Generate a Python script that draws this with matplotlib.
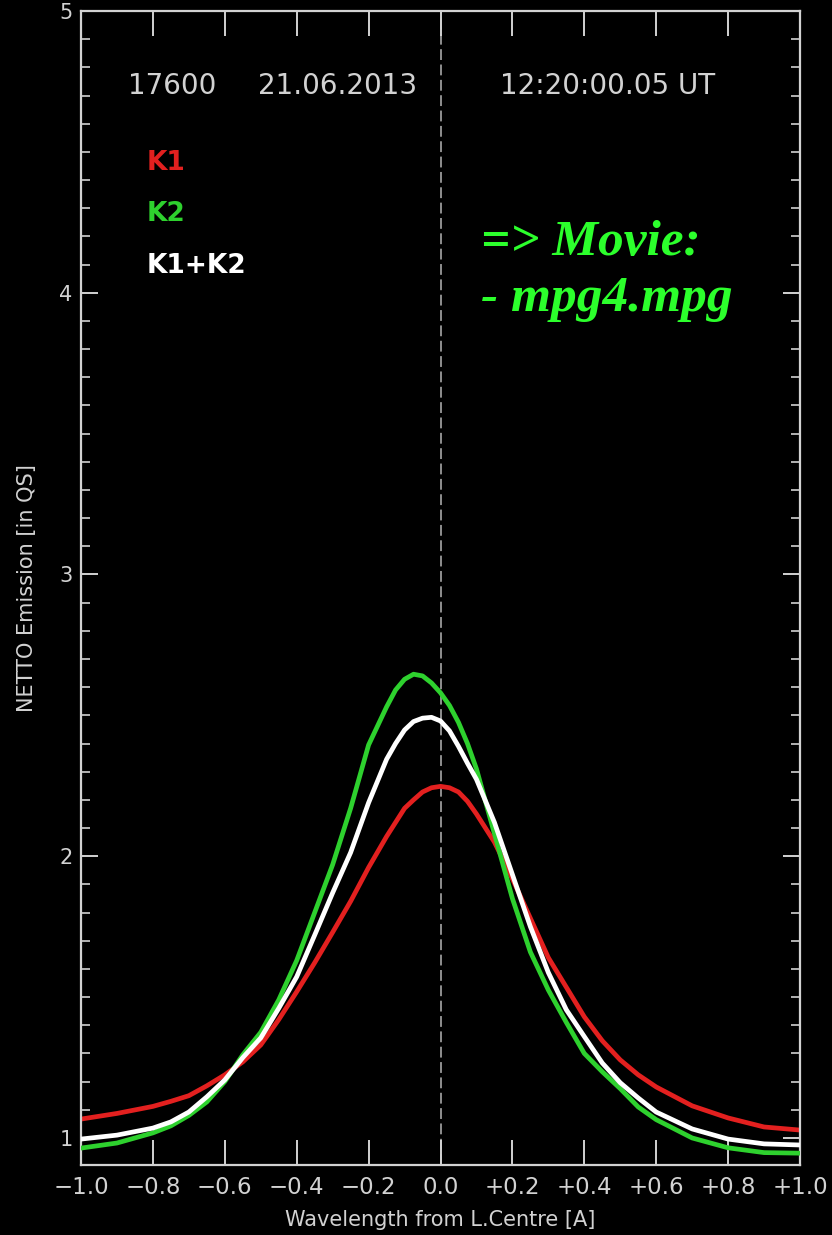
import matplotlib.pyplot as plt
from matplotlib.ticker import MultipleLocator
import numpy as np

# wavelength offset from line centre [A]
wavelength = [-1.0, -0.9, -0.8, -0.75, -0.7, -0.65, -0.6, -0.55, -0.5, -0.45,
              -0.4, -0.35, -0.3, -0.25, -0.2, -0.15, -0.125, -0.1, -0.075, -0.05,
              -0.025, 0.0, 0.025, 0.05, 0.075, 0.1, 0.15, 0.2, 0.25, 0.3,
              0.35, 0.4, 0.45, 0.5, 0.55, 0.6, 0.7, 0.8, 0.9, 1.0]

# netto emission [in QS]
k1 = [1.067, 1.087, 1.112, 1.130, 1.150, 1.185, 1.224, 1.270, 1.330, 1.420,
      1.519, 1.622, 1.730, 1.840, 1.960, 2.070, 2.120, 2.170, 2.200, 2.228,
      2.243, 2.248, 2.243, 2.228, 2.195, 2.150, 2.050, 1.920, 1.780, 1.640,
      1.535, 1.430, 1.345, 1.277, 1.224, 1.181, 1.114, 1.071, 1.039, 1.028]

k2 = [0.964, 0.982, 1.018, 1.043, 1.080, 1.128, 1.200, 1.295, 1.375, 1.490,
      1.630, 1.800, 1.970, 2.170, 2.395, 2.530, 2.590, 2.628, 2.646, 2.640,
      2.615, 2.580, 2.535, 2.475, 2.400, 2.310, 2.080, 1.850, 1.660, 1.525,
      1.410, 1.300, 1.235, 1.175, 1.110, 1.065, 1.000, 0.965, 0.948, 0.946]

k1_k2 = [0.996, 1.010, 1.035, 1.057, 1.092, 1.146, 1.206, 1.285, 1.355, 1.460,
         1.572, 1.720, 1.870, 2.013, 2.190, 2.344, 2.400, 2.448, 2.478, 2.490,
         2.493, 2.480, 2.445, 2.390, 2.330, 2.273, 2.120, 1.935, 1.750, 1.587,
         1.455, 1.360, 1.266, 1.196, 1.142, 1.092, 1.032, 0.996, 0.979, 0.975]

x_ticks = [-1.0, -0.8, -0.6, -0.4, -0.2, 0.0, 0.2, 0.4, 0.6, 0.8, 1.0]
x_tick_labels = ["\u22121.0", "\u22120.8", "\u22120.6", "\u22120.4", "\u22120.2", "0.0",
                 "+0.2", "+0.4", "+0.6", "+0.8", "+1.0"]
y_ticks = [1, 2, 3, 4, 5]

W, H = 832, 1235
GRAY = "#d2d2d2"


def px(x, y):
    # pixel position -> figure fraction
    return x / W, 1 - y / H


fig = plt.figure(figsize=(W / 100, H / 100), dpi=100, facecolor="black")
ax = fig.add_axes([81 / W, 70 / H, 719 / W, 1154 / H])
ax.set_facecolor("black")

ax.axvline(0, color="#9a9a9a", lw=1.3, ls=(0, (6, 2.5)), zorder=1)

ax.plot(wavelength, k1, color="#e3201f", lw=3.4, solid_capstyle="round",
        solid_joinstyle="round", zorder=2)
ax.plot(wavelength, k2, color="#2ed12e", lw=3.4, solid_capstyle="round",
        solid_joinstyle="round", zorder=3)
ax.plot(wavelength, k1_k2, color="white", lw=3.4, solid_capstyle="round",
        solid_joinstyle="round", zorder=4)

ax.set_xlim(-1.0, 1.0)
ax.set_ylim(0.904, 5.0)
ax.set_xticks(x_ticks)
ax.set_xticklabels(x_tick_labels)
ax.set_yticks(y_ticks)
ax.yaxis.set_minor_locator(MultipleLocator(0.1))

ax.tick_params(axis="both", which="both", direction="in", colors=GRAY,
               top=True, right=True, labeltop=False, labelright=False)
ax.tick_params(axis="x", which="major", length=18, width=1.4, pad=8, labelsize=16.5)
ax.tick_params(axis="y", which="major", length=12, width=1.4, pad=6, labelsize=15)
ax.tick_params(axis="y", which="minor", length=6.5, width=1.2)

for s in ax.spines.values():
    s.set_color(GRAY)
    s.set_linewidth(1.6)

ax.set_xlabel("Wavelength from L.Centre [A]", color=GRAY, fontsize=15, va="center")
ax.xaxis.set_label_coords(0.5, -0.0477)
ax.set_ylabel("NETTO Emission [in QS]", color=GRAY, fontsize=15, va="center")
ax.yaxis.set_label_coords(-0.075, 0.5)

# header line
fig.text(*px(128, 86), "17600", color=GRAY, fontsize=20, va="center")
fig.text(*px(258, 86), "21.06.2013", color=GRAY, fontsize=20, va="center")
fig.text(*px(500, 86), "12:20:00.05 UT", color=GRAY, fontsize=20, va="center")

# legend
fig.text(*px(147, 163), "K1", color="#e3201f", fontsize=19, fontweight="bold", va="center")
fig.text(*px(147, 214), "K2", color="#2ed12e", fontsize=19, fontweight="bold", va="center")
fig.text(*px(147, 266), "K1+K2", color="white", fontsize=19, fontweight="bold", va="center")

# movie note
fig.text(*px(481, 255), "=> Movie:", color="#2cff2c", fontsize=37,
         family="Liberation Serif", fontweight="bold", fontstyle="italic", va="baseline")
fig.text(*px(481, 311), "- mpg4.mpg", color="#2cff2c", fontsize=37,
         family="Liberation Serif", fontweight="bold", fontstyle="italic", va="baseline")

fig.savefig("out.png", dpi=100, facecolor="black")
